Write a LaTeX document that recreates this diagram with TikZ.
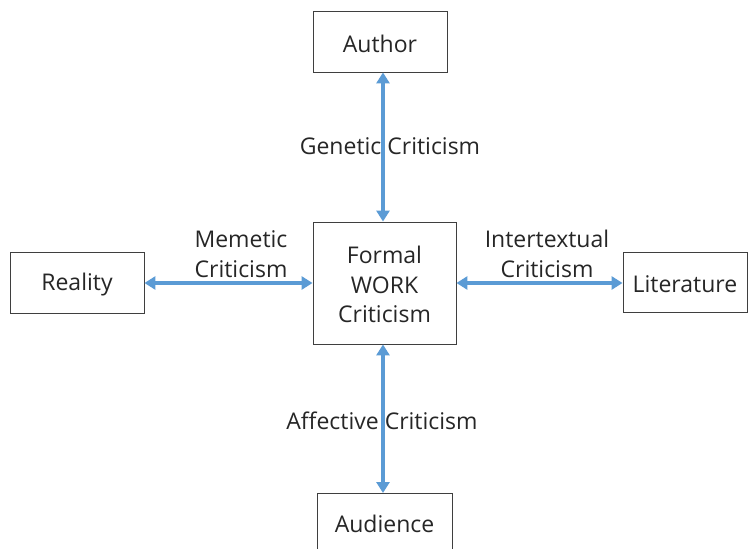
\documentclass[tikz,border=0pt]{standalone}
\usepackage{fontspec}
\setmainfont{Open Sans}
\usetikzlibrary{arrows.meta}
\definecolor{arrowblue}{HTML}{5B9BD5}
\definecolor{boxline}{HTML}{3F3F3F}
\definecolor{txt}{HTML}{262626}
\begin{document}
\begin{tikzpicture}[x=1pt,y=-1pt,
  every node/.style={font=\fontsize{23}{29.5}\selectfont, text=txt},
  entity/.style={draw=boxline, line width=0.9pt, inner sep=0pt},
  link/.style={draw=arrowblue, line width=3.6pt, {Triangle[length=11pt,width=13pt]}-{Triangle[length=11pt,width=13pt]}, shorten <=0pt, shorten >=0pt},
  lbl/.style={align=center, inner sep=0pt}]
\useasboundingbox (0,0) rectangle (748,549);
\node[entity, minimum width=134pt, minimum height=61pt] (author) at (380,41.5) {};
\node[lbl] (authort) at (380,43.5) {Author};
\node[entity, minimum width=143pt, minimum height=122pt] (work) at (384.5,283) {};
\node[lbl] (workt) at (384.5,284.5) {Formal\\WORK\\Criticism};
\node[entity, minimum width=134pt, minimum height=61pt] (reality) at (77,282.5) {};
\node[lbl] (realityt) at (77,285) {Reality};
\node[entity, minimum width=124pt, minimum height=60pt] (lit) at (685,282) {};
\node[lbl] (litt) at (685,284) {Literature};
\coordinate (audTL) at (317,493);
\coordinate (audTR) at (452,493);
\coordinate (audBL) at (317,560);
\coordinate (audBR) at (452,560);
\draw[boxline, line width=0.9pt] (audBL) -- (audTL) -- (audTR) -- (audBR);
\node[lbl] (audience) at (384.5,524) {Audience};
\coordinate (audtop) at (383,493);
\draw[link] (author.south -| 383,0) -- (work.north -| 383,0);
\draw[link] (work.south -| 383,0) -- (audtop);
\draw[link] (reality.east |- 0,283) -- (work.west |- 0,283);
\draw[link] (work.east |- 0,283) -- (lit.west |- 0,283);
\node[lbl] (gen) at (390,146) {Genetic Criticism};
\node[lbl] (aff) at (382,421) {Affective Criticism};
\node[lbl] (mem) at (241,254) {Memetic\\Criticism};
\node[lbl] (inter) at (547,254) {Intertextual\\Criticism};
\end{tikzpicture}
\end{document}
